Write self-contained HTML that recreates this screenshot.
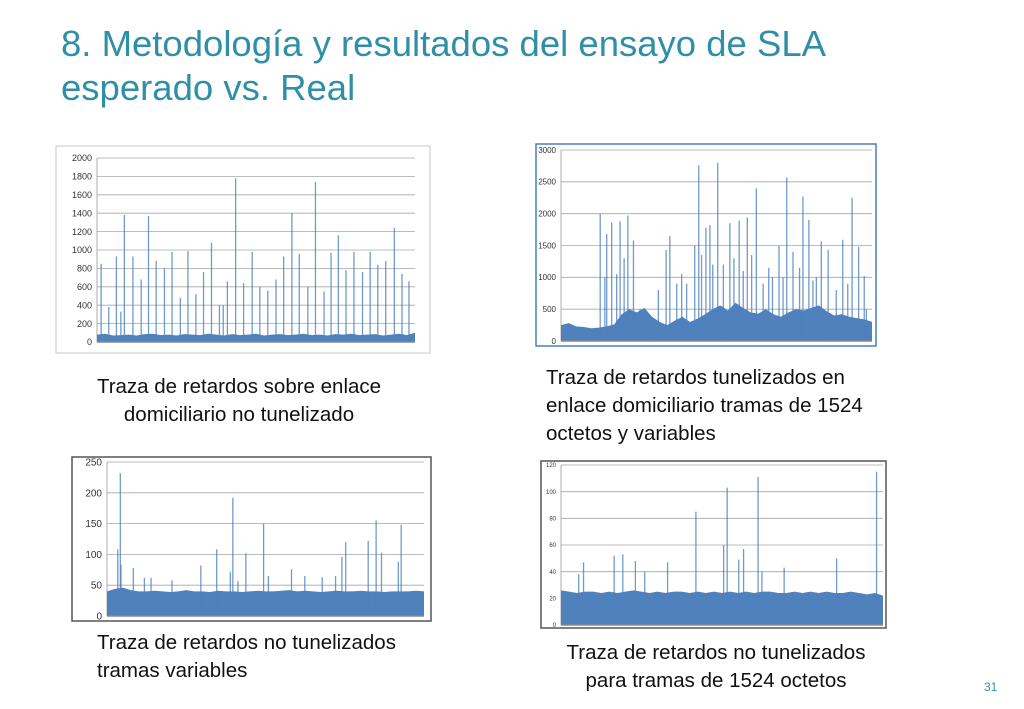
<!DOCTYPE html>
<html><head><meta charset="utf-8"><style>
html,body{margin:0;padding:0;background:#fff;width:1024px;height:709px;overflow:hidden}
svg{display:block}
.cap{font-family:"Liberation Sans",sans-serif;font-size:20.5px;fill:#111}
</style></head><body>
<svg id="s" width="1024" height="709" xmlns="http://www.w3.org/2000/svg">
<text x="61" y="56" font-family="Liberation Sans,sans-serif" font-size="36.5" fill="#2e8fa6">8. Metodología y resultados del ensayo de SLA</text>
<text x="61" y="100" font-family="Liberation Sans,sans-serif" font-size="36.5" fill="#2e8fa6">esperado vs. Real</text>
<text class="cap" text-anchor="middle"><tspan x="239" y="393">Traza de retardos sobre enlace</tspan><tspan x="239" y="421">domiciliario no tunelizado</tspan></text>
<text class="cap"><tspan x="546" y="384">Traza de retardos tunelizados en</tspan><tspan x="546" y="412">enlace domiciliario tramas de 1524</tspan><tspan x="546" y="440">octetos y variables</tspan></text>
<text class="cap"><tspan x="97" y="649">Traza de retardos no tunelizados</tspan><tspan x="97" y="677">tramas variables</tspan></text>
<text class="cap" text-anchor="middle"><tspan x="716" y="659">Traza de retardos no tunelizados</tspan><tspan x="716" y="687">para tramas de 1524 octetos</tspan></text>
<text x="984" y="691" font-family="Liberation Sans,sans-serif" font-size="12" fill="#2e8fa6">31</text>
</svg>
<script>
// Chart 1 data
const c1Ticks=[0,200,400,600,800,1000,1200,1400,1600,1800,2000];
const c1SpikeIdx=[1.3,3.7,6.1,7.5,8.6,11.3,13.9,16.2,18.6,21.2,23.6,26.2,28.6,31.1,33.5,36,38.5,39.7,41,43.6,46.1,48.8,51.2,53.7,56.3,58.7,61.3,63.6,66.3,68.7,71.4,73.6,75.9,78.3,80.8,83.5,85.9,88.3,90.8,93.5,95.9,98.1];
const c1SpikeVal=[850,380,930,330,1380,930,680,1370,880,800,980,480,990,520,760,1080,400,400,660,1780,640,980,600,560,680,930,1400,960,600,1740,550,970,1160,780,980,760,980,840,880,1240,740,660];
const c1Base=[80,90,70,75,80,70,85,90,75,80,70,85,80,75,90,80,70,85,75,80,90,70,80,85,75,80,90,75,80,70,85,80,90,75,80,85,70,80,90,75,100];
// Chart 2 data
const c2Ticks=[0,500,1000,1500,2000,2500,3000];
const c2SpikeIdx=[12.6,14.7,16.3,19,21.5,23.3,35,33.8,43,44.3,46.6,47.9,50.4,54.3,57.3,59.9,62.8,66.8,70.1,72.6,77.8,79.7,83.7,85.9,90.6,93.6,95.7,97.5,14.1,17.9,20.3,25.4,31.3,37.2,38.8,40.4,45.2,48.8,52.2,55.6,58.6,61.3,65,68,71.4,74.6,76.7,81,82.1,88.5,92.2,98.2];
const c2SpikeVal=[2000,1680,1860,1880,1970,1580,1650,1430,1500,2760,1780,1820,2800,1850,1890,1940,2400,1150,1500,2570,2270,1900,1570,1430,1590,2250,1480,1020,1000,1050,1300,500,800,900,1050,900,1350,1200,1200,1300,1100,1350,900,1000,1000,1400,1150,950,1000,800,900,500];
const c2Base=[250,280,230,220,200,210,230,260,420,500,450,520,380,300,250,320,380,300,350,420,500,560,480,600,520,450,430,500,420,380,450,500,480,520,560,470,400,420,380,360,340,300];
// Chart 3 data
const c3Ticks=[0,50,100,150,200,250];
const c3SpikeIdx=[3.4,4.2,4.4,8.3,11.8,13.9,20.5,29.6,34.6,38.9,39.7,41.3,43.8,49.4,50.9,58.2,62.4,67.9,72.1,74.1,75.3,82.4,84.9,86.6,91.9,92.8];
const c3SpikeVal=[108,232,83,78,62,62,58,82,108,72,192,57,102,150,65,76,65,63,65,96,120,122,155,103,88,148];
const c3Base=[40,44,46,42,40,40,41,40,39,40,42,40,40,39,41,40,40,39,40,41,40,40,41,42,40,41,40,39,40,41,40,40,41,40,40,39,40,40,40,41,40];
// Chart 4 data
const c4Ticks=[0,20,40,60,80,100,120];
const c4SpikeIdx=[5.5,7,16.5,19.2,23.1,26,33.1,41.9,50.5,51.6,55.2,56.7,61.2,62.4,69.3,85.6,98];
const c4SpikeVal=[38,47,52,53,48,40,47,85,60,103,49,57,111,40,43,50,115];
const c4Base=[26,25,24,25,25,24,25,24,25,26,25,24,25,24,25,25,24,25,24,25,24,25,24,25,24,25,25,24,24,25,24,25,24,25,24,24,25,24,23,24,22];

const NS="http://www.w3.org/2000/svg";
const svg=document.getElementById('s');
function mk(tag,attrs,parent){const e=document.createElementNS(NS,tag);for(const k in attrs)e.setAttribute(k,attrs[k]);(parent||svg).appendChild(e);return e;}

function chart(id,frame,plot,max,ticks,spIdx,spVal,base,fs,frameColor){
  const g=mk('g',{});
  
  
  const fr=mk('rect',{x:frame[0],y:frame[1],width:frame[2],height:frame[3],fill:'#fff',stroke:frameColor,'stroke-width':frameColor=='#c8c8c8'?1:1.5},g);
  
  
  const [x0,x1,yTop,yBot]=plot;
  const X=i=>x0+(x1-x0)*i/100;
  const Y=v=>yBot-(yBot-yTop)*v/max;
  ticks.forEach(t=>{
    const l=mk('line',{x1:x0,x2:x1,y1:Y(t),y2:Y(t),stroke:'#a6a6a6','stroke-width':0.8},g);
    
    
    const tx=mk('text',{x:x0-5,y:Y(t)+fs*0.35,'text-anchor':'end','font-family':'Liberation Sans,sans-serif','font-size':fs,fill:'#333'},g);
    tx.textContent=t;
    
    
  });
  mk('line',{x1:x0,x2:x0,y1:yTop,y2:yBot,stroke:'#999','stroke-width':0.8},g);
  let d='M'+x0+','+yBot;
  base.forEach((v,i)=>{d+=' L'+X(i*100/(base.length-1))+','+Y(v);});
  d+=' L'+x1+','+yBot+' Z';
  const a=mk('path',{d:d,fill:'#4f81bd'},g);
  
  
  spIdx.forEach((ix,i)=>{
    const l=mk('line',{x1:X(ix),x2:X(ix),y1:yBot,y2:Y(spVal[i]),stroke:'#4f81bd','stroke-width':1.3,'stroke-opacity':0.8},g);
    
    
  });
  mk('line',{x1:x0,x2:x1,y1:yBot,y2:yBot,stroke:'#888','stroke-width':1.5},g);
}
chart('chart1-retardos-no-tunelizado',[56,146,374,207],[97,415,158,342],2000,c1Ticks,c1SpikeIdx,c1SpikeVal,c1Base,9,'#c8c8c8');
chart('chart2-retardos-tunelizados',[536,144,340,202],[561,872,150,341],3000,c2Ticks,c2SpikeIdx,c2SpikeVal,c2Base,8,'#4a7fc0');
chart('chart3-tramas-variables',[72,457,359,164],[107,424,462,616],250,c3Ticks,c3SpikeIdx,c3SpikeVal,c3Base,10,'#555');
chart('chart4-tramas-1524',[541,461,345,167],[561,883,465,625],120,c4Ticks,c4SpikeIdx,c4SpikeVal,c4Base,6,'#555');
</script>
</body></html>
